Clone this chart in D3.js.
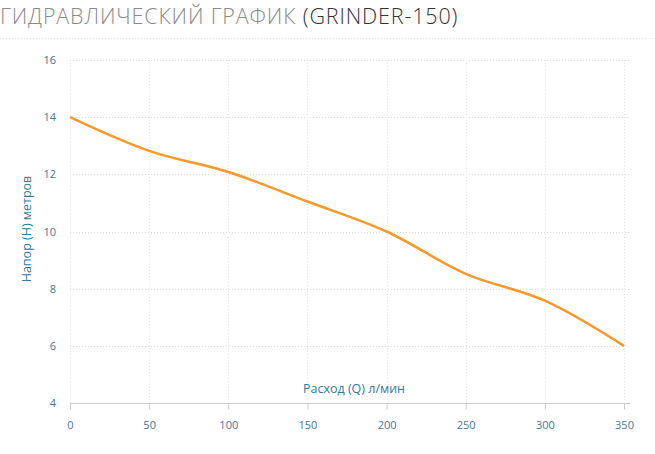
<!DOCTYPE html>
<html><head><meta charset="utf-8">
<script src="https://cdn.jsdelivr.net/npm/d3@7"></script>
<style>
html,body{margin:0;padding:0;background:#fff;}
svg{display:block;font-family:"Open Sans",sans-serif;}
</style></head><body>
<svg id="c" width="655" height="454"></svg>
<script>
const flow = [0, 50, 100, 150, 200, 250, 300, 350];
const head = [14.0, 12.82, 12.08, 11.05, 10.0, 8.52, 7.58, 6.0];
const xTicks = [0, 50, 100, 150, 200, 250, 300, 350];
const yTicks = [4, 6, 8, 10, 12, 14, 16];
const titleMain = "ГИДРАВЛИЧЕСКИЙ ГРАФИК ";
const titleModel = "(GRINDER-150)";
const xTitle = "Расход (Q) л/мин";
const yTitle = "Напор (Н) метров";

const svg = d3.select("#c");
const x = d3.scaleLinear().domain([0, 350]).range([70, 624]);
const y = d3.scaleLinear().domain([4, 16]).range([403, 60]);

// title
const t = svg.append("text").attr("x", 0).attr("y", 24)
  .style("font-size", "21.5px").style("font-weight", 300).style("letter-spacing", "0.85px");
t.append("tspan").attr("fill", "#8a8a8a").text(titleMain);
t.append("tspan").attr("fill", "#333").text(titleModel);
svg.append("line").attr("x1", 0).attr("x2", 655).attr("y1", 38.5).attr("y2", 38.5)
  .attr("stroke", "#e2e2e2").attr("stroke-dasharray", "1,2");

// grid
const g = svg.append("g");
g.selectAll(".hg").data(yTicks.filter(d => d > 4)).enter().append("line")
  .attr("x1", 70).attr("x2", 631).attr("y1", d => Math.round(y(d)) + 0.5).attr("y2", d => Math.round(y(d)) + 0.5)
  .attr("stroke", "#dcdcdc").attr("stroke-dasharray", "1,2");
g.selectAll(".vg").data(xTicks).enter().append("line")
  .attr("y1", 60).attr("y2", 403).attr("x1", d => Math.round(x(d)) + 0.5).attr("x2", d => Math.round(x(d)) + 0.5)
  .attr("stroke", "#e6e6e6").attr("stroke-dasharray", "1,2");

// x axis
const xa = svg.append("g").attr("transform", "translate(0,403.5)")
  .call(d3.axisBottom(x).tickValues(xTicks).tickSize(6).tickPadding(12).tickFormat(d3.format("d")));
xa.select(".domain").attr("stroke", "#ccc").attr("d", "M70,0H631");
xa.selectAll(".tick line").attr("stroke", "#ccc");
xa.selectAll(".tick text").attr("fill", "#467696").style("font-size", "11px").style("font-family", "Open Sans, sans-serif");

// y axis
const ya = svg.append("g").attr("transform", "translate(70,0)")
  .call(d3.axisLeft(y).tickValues(yTicks).tickSize(0).tickPadding(14).tickFormat(d3.format("d")));
ya.select(".domain").remove();
ya.selectAll(".tick text").attr("fill", "#467696").style("font-size", "11px").style("font-family", "Open Sans, sans-serif");

// axis titles
svg.append("text").attr("x", 354).attr("y", 393).attr("text-anchor", "middle")
  .attr("fill", "#2f7c9e").style("font-size", "12.5px").text(xTitle);
svg.append("text").attr("transform", "translate(31,229) rotate(-90)").attr("text-anchor", "middle")
  .attr("fill", "#2f7c9e").style("font-size", "12.5px").text(yTitle);

// line
const data = flow.map((f, i) => [f, head[i]]);
svg.append("path").datum(data)
  .attr("fill", "none").attr("stroke", "#f39a2b").attr("stroke-width", 2.5)
  .attr("d", d3.line().x(d => x(d[0])).y(d => y(d[1])).curve(d3.curveCatmullRom.alpha(0.5)));
</script>
</body></html>
